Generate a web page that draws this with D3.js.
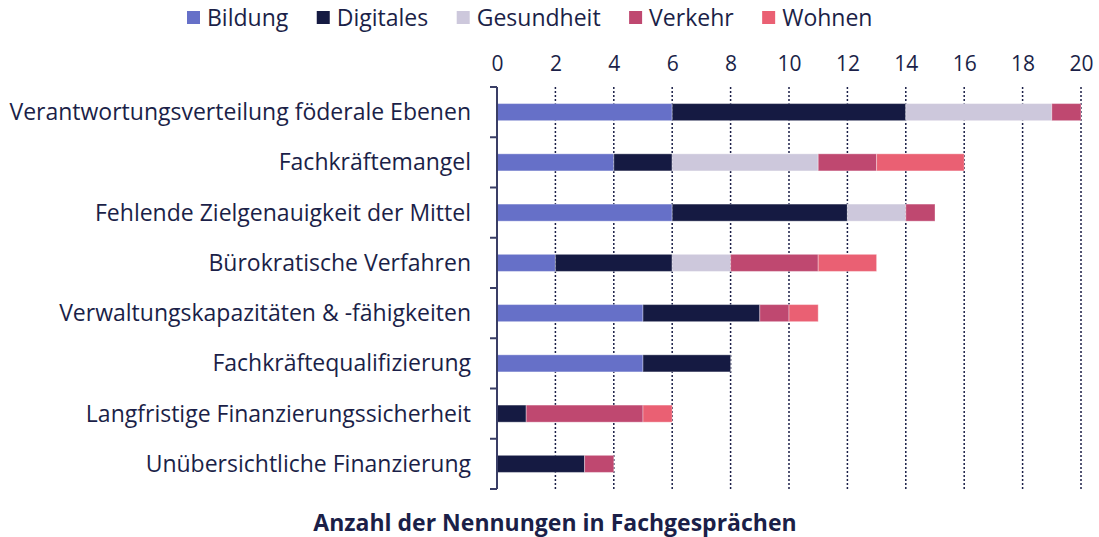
<!DOCTYPE html>
<html>
<head>
<meta charset="utf-8">
<script src="https://cdn.jsdelivr.net/npm/d3@7"></script>
<style>
  body { margin: 0; background: #fff; }
  text { font-family: "Open Sans", sans-serif; }
</style>
</head>
<body>
<div id="chart"></div>
<script>
const categories = [
    "Verantwortungsverteilung föderale Ebenen",
    "Fachkräftemangel",
    "Fehlende Zielgenauigkeit der Mittel",
    "Bürokratische Verfahren",
    "Verwaltungskapazitäten & -fähigkeiten",
    "Fachkräftequalifizierung",
    "Langfristige Finanzierungssicherheit",
    "Unübersichtliche Finanzierung"
];
const series_names = ["Bildung", "Digitales", "Gesundheit", "Verkehr", "Wohnen"];
const bildung    = [6, 4, 6, 2, 5, 5, 0, 0];
const digitales  = [8, 2, 6, 4, 4, 3, 1, 3];
const gesundheit = [5, 5, 2, 2, 0, 0, 0, 0];
const verkehr    = [1, 2, 1, 3, 1, 0, 4, 1];
const wohnen     = [0, 3, 0, 2, 1, 0, 1, 0];
const x_ticks = [0, 2, 4, 6, 8, 10, 12, 14, 16, 18, 20];
const colors = ["#6670C8", "#151A42", "#CDC8DC", "#BF4870", "#EA6073"];
const text_color = "#1B1F48";

const width = 1099, height = 537;
const margin = {top: 87, right: 18, bottom: 48, left: 497};

const table = categories.map( (c, i) => ({
    cat: c,
    Bildung: bildung[i],
    Digitales: digitales[i],
    Gesundheit: gesundheit[i],
    Verkehr: verkehr[i],
    Wohnen: wohnen[i]
}));
const stacked = d3.stack().keys(series_names)(table);

const svg = d3.select('#chart')
    .append('svg')
    .attr('width', width)
    .attr('height', height);

const xscale = d3.scaleLinear()
    .domain([0, 20])
    .range([margin.left, width - margin.right]);

const yscale = d3.scaleBand()
    .domain(categories)
    .range([margin.top, height - margin.bottom])
    .paddingInner(0.66)
    .paddingOuter(0.33);

const color_scale = d3.scaleOrdinal().domain(series_names).range(colors);

// dotted grid lines
svg.append('g')
    .selectAll('line')
    .data(x_ticks.filter(d => d > 0))
    .join('line')
    .attr('x1', d => xscale(d))
    .attr('x2', d => xscale(d))
    .attr('y1', margin.top)
    .attr('y2', height - margin.bottom)
    .attr('stroke', text_color)
    .attr('stroke-width', 1.5)
    .attr('stroke-dasharray', '2,2');

// top axis labels
const xaxis = d3.axisTop(xscale)
    .tickValues(x_ticks)
    .tickSize(0)
    .tickPadding(0);
const xg = svg.append('g')
    .attr('transform', `translate(0, 71)`)
    .call(xaxis);
xg.select('.domain').remove();
xg.selectAll('text')
    .attr('font-size', 21)
    .attr('fill', text_color)
    .attr('font-family', '"Open Sans", sans-serif');

// bars
svg.append('g')
    .selectAll('g')
    .data(stacked)
    .join('g')
    .attr('fill', d => color_scale(d.key))
    .selectAll('rect')
    .data(d => d.filter(s => s[1] > s[0]))
    .join('rect')
    .attr('x', d => xscale(d[0]))
    .attr('width', d => xscale(d[1]) - xscale(d[0]))
    .attr('y', d => yscale(d.data.cat))
    .attr('height', yscale.bandwidth())
    .attr('stroke', 'rgba(255,255,255,0.35)')
    .attr('stroke-width', 1);

// left axis: line with ticks at band boundaries
const step = yscale.step();
const bounds = d3.range(categories.length + 1).map(i => margin.top + i * step);
svg.append('line')
    .attr('x1', margin.left)
    .attr('x2', margin.left)
    .attr('y1', margin.top)
    .attr('y2', height - margin.bottom)
    .attr('stroke', '#3A3E66')
    .attr('stroke-width', 2);
svg.append('g')
    .selectAll('line')
    .data(bounds)
    .join('line')
    .attr('x1', margin.left - 7)
    .attr('x2', margin.left)
    .attr('y1', d => d)
    .attr('y2', d => d)
    .attr('stroke', '#3A3E66')
    .attr('stroke-width', 2);

// category labels
svg.append('g')
    .selectAll('text')
    .data(categories)
    .join('text')
    .attr('x', margin.left - 26)
    .attr('y', d => yscale(d) + yscale.bandwidth() / 2)
    .attr('dy', '0.35em')
    .attr('text-anchor', 'end')
    .attr('font-size', 23)
    .attr('fill', text_color)
    .text(d => d);

// legend
const legend = svg.append('g').attr('transform', 'translate(187, 18)');
let lx = 0;
series_names.forEach( (name, i) => {
    const item = legend.append('g').attr('transform', `translate(${lx}, 0)`);
    item.append('rect')
        .attr('x', 0)
        .attr('y', -7)
        .attr('width', 13)
        .attr('height', 13)
        .attr('fill', colors[i]);
    const t = item.append('text')
        .attr('x', 20)
        .attr('y', 0)
        .attr('dy', '0.35em')
        .attr('font-size', 23)
        .attr('fill', text_color)
        .text(name);
    lx += 20 + t.node().getComputedTextLength() + 28.5;
});

// axis title
svg.append('text')
    .attr('x', 555)
    .attr('y', 523)
    .attr('dy', '0.35em')
    .attr('text-anchor', 'middle')
    .attr('font-size', 23)
    .attr('font-weight', 'bold')
    .attr('fill', text_color)
    .text('Anzahl der Nennungen in Fachgesprächen');
</script>
</body>
</html>
